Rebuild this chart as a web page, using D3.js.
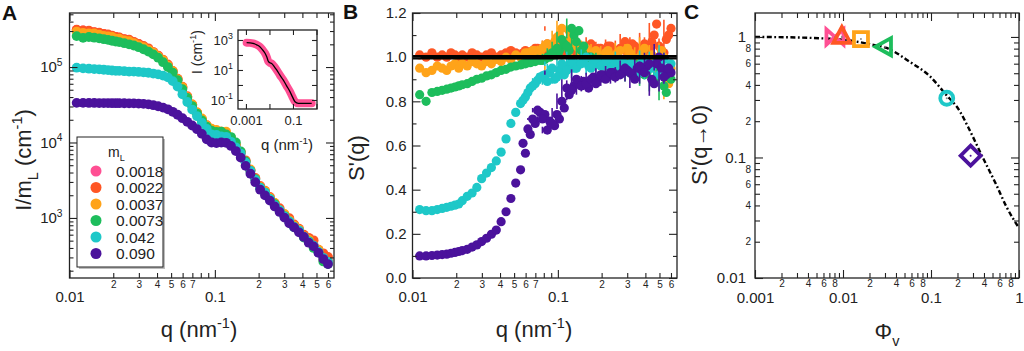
<!DOCTYPE html>
<html><head><meta charset="utf-8">
<script src="https://cdn.jsdelivr.net/npm/d3@7"></script>
<style>body{margin:0;background:#fff;}svg{display:block;}</style>
</head><body><svg id="c" width="1024" height="351"></svg>
<script>
// ---------------- DATA ----------------
const qValues = [0.0112,0.0124,0.0136,0.0148,0.016,0.0172,0.0184,0.0196,0.0208,0.022,0.0238,0.0257,0.0277,0.0299,0.0323,0.0349,0.0377,0.0407,0.044,0.0475,0.0513,0.0554,0.0598,0.0646,0.0698,0.0754,0.0814,0.0879,0.0949,0.1025,0.1107,0.1196,0.1291,0.1395,0.1506,0.1627,0.1757,0.1897,0.2049,0.2213,0.239,0.2581,0.2788,0.3011,0.3252,0.3512,0.3793,0.4096,0.4424,0.4778,0.516,0.5573,0.6];
const seriesLabels = ["0.0018","0.0022","0.0037","0.0073","0.042","0.090"];
const seriesColors = ["#ff4f93","#ff5624","#ffa319","#1dbd5c","#1ec8c8","#4b129c"];

// Panel A: I/mL (cm^-1)
const iA0018 = [3.1e5,3.05e5,2.98e5,2.9e5,2.82e5,2.74e5,2.66e5,2.58e5,2.5e5,2.45e5,2.35e5,2.25e5,2.14e5,2.02e5,1.88e5,1.74e5,1.58e5,1.41e5,1.23e5,1.05e5,8.7e4,6.9e4,5.3e4,4.0e4,3.1e4,2.45e4,1.98e4,1.62e4,1.42e4,1.34e4,1.31e4,1.24e4,1.07e4,8.9e3,7.2e3,5.6e3,4.3e3,3.3e3,2.6e3,2.2e3,1.85e3,1.55e3,1.3e3,1.09e3,930,800,690,590,510,440,370,315,270];
const iA0022 = [3.13e5,3.05e5,3.04e5,2.9e5,2.85e5,2.74e5,2.71e5,2.61e5,2.5e5,2.47e5,2.35e5,2.3e5,2.16e5,2.02e5,1.9e5,1.77e5,1.58e5,1.42e5,1.25e5,1.08e5,8.9e4,7.0e4,5.5e4,4.1e4,3.2e4,2.5e4,2.04e4,1.7e4,1.46e4,1.39e4,1.39e4,1.28e4,1.12e4,9.1e3,7.5e3,5.8e3,4.3e3,3.4e3,2.65e3,2.3e3,1.9e3,1.57e3,1.35e3,1.11e3,990,820,720,600,545,505,380,340,305];
const iA0037 = [2.95e5,2.84e5,2.8e5,2.78e5,2.68e5,2.58e5,2.55e5,2.5e5,2.38e5,2.38e5,2.26e5,2.2e5,2.08e5,1.94e5,1.84e5,1.69e5,1.56e5,1.38e5,1.23e5,1.04e5,8.8e4,6.9e4,5.4e4,4.0e4,3.2e4,2.5e4,2.08e4,1.68e4,1.52e4,1.47e4,1.39e4,1.39e4,1.16e4,9.3e3,7.4e3,5.6e3,4.4e3,3.3e3,2.57e3,2.27e3,1.85e3,1.58e3,1.27e3,1.13e3,930,790,700,570,515,420,380,285,255];
const iA0073 = [2.57e5,2.44e5,2.5e5,2.45e5,2.4e5,2.34e5,2.29e5,2.23e5,2.18e5,2.14e5,2.07e5,2.0e5,1.93e5,1.83e5,1.72e5,1.6e5,1.47e5,1.33e5,1.16e5,1.0e5,8.4e4,6.7e4,5.1e4,3.9e4,3.04e4,2.41e4,1.96e4,1.62e4,1.43e4,1.38e4,1.39e4,1.28e4,1.18e4,1.0e4,7.6e3,5.6e3,4.2e3,3.27e3,2.52e3,2.16e3,1.78e3,1.52e3,1.24e3,1.06e3,890,750,670,550,490,400,350,265,245];
const iA042 = [9.8e4,9.6e4,9.5e4,9.4e4,9.3e4,9.2e4,9.1e4,9.0e4,8.9e4,8.9e4,8.8e4,8.7e4,8.7e4,8.6e4,8.5e4,8.4e4,8.2e4,8.0e4,7.7e4,7.3e4,6.5e4,5.5e4,4.35e4,3.44e4,2.73e4,2.23e4,1.82e4,1.51e4,1.28e4,1.26e4,1.2e4,1.19e4,1.02e4,8.6e3,7.1e3,5.4e3,4.2e3,3.2e3,2.5e3,2.16e3,1.79e3,1.47e3,1.27e3,1.05e3,900,760,680,565,485,430,355,296,262];
const iA090 = [3.35e4,3.35e4,3.34e4,3.34e4,3.33e4,3.33e4,3.33e4,3.32e4,3.32e4,3.32e4,3.31e4,3.3e4,3.3e4,3.28e4,3.25e4,3.2e4,3.12e4,3.02e4,2.9e4,2.75e4,2.55e4,2.33e4,2.1e4,1.88e4,1.68e4,1.5e4,1.3e4,1.1e4,1.0e4,9.8e3,1.0e4,9.9e3,9.0e3,7.7e3,6.3e3,4.9e3,3.85e3,2.98e3,2.37e3,1.99e3,1.7e3,1.42e3,1.2e3,1.01e3,850,750,645,560,470,420,345,285,245];

// Panel A inset: I (cm^-1) vs q
const insetQ = [0.00107,0.0015,0.002,0.0024,0.003,0.0039,0.005,0.0065,0.0078,0.0089,0.0105,0.0124,0.016,0.0203,0.028,0.039,0.053,0.0745,0.095,0.122,0.168,0.25,0.4,0.625];
const insetI = [660,640,590,540,460,357,230,130,70,38,30,27,17,10,4.5,2.1,0.9,0.36,0.16,0.077,0.06,0.06,0.06,0.06];

// Panel B: S'(q) on the main q grid
const sB0022 = [1.01,1.0,1.02,1.0,1.01,1.0,1.02,1.01,1.0,1.01,1.0,1.02,1.01,1.0,1.01,1.02,1.0,1.01,1.02,1.03,1.02,1.01,1.03,1.02,1.04,1.02,1.03,1.05,1.03,1.04,1.06,1.03,1.05,1.02,1.04,1.03,1.01,1.04,1.02,1.05,1.03,1.01,1.04,1.02,1.06,1.03,1.04,1.02,1.07,1.15,1.03,1.08,1.13];
const sB0037 = [0.95,0.93,0.94,0.96,0.95,0.94,0.96,0.97,0.95,0.97,0.96,0.98,0.97,0.96,0.98,0.97,0.99,0.98,1.0,0.99,1.01,1.0,1.02,1.01,1.03,1.02,1.05,1.04,1.07,1.1,1.06,1.12,1.08,1.04,1.03,1.0,1.02,1.01,0.99,1.03,1.0,1.02,0.98,1.04,1.0,0.99,1.02,0.97,1.01,0.96,1.03,0.9,0.95];
const sB0073 = [0.83,0.80,0.84,0.845,0.85,0.855,0.86,0.865,0.87,0.875,0.88,0.89,0.9,0.905,0.915,0.92,0.93,0.94,0.945,0.955,0.96,0.965,0.97,0.975,0.98,0.985,0.99,1.0,1.01,1.03,1.06,1.03,1.1,1.12,1.05,1.0,0.98,0.99,0.97,0.98,0.96,0.98,0.95,0.97,0.96,0.94,0.97,0.93,0.96,0.91,0.94,0.84,0.9];
const sB042 = [0.31,0.305,0.305,0.31,0.315,0.32,0.325,0.33,0.335,0.35,0.37,0.385,0.41,0.45,0.475,0.5,0.53,0.57,0.63,0.70,0.75,0.79,0.82,0.86,0.88,0.91,0.92,0.93,0.90,0.94,0.92,0.96,0.95,0.97,0.99,0.96,0.98,0.97,0.96,0.98,0.97,0.95,0.98,0.96,0.97,0.95,0.98,0.96,0.95,0.98,0.96,0.94,0.97];
const sB090 = [0.10,0.10,0.102,0.104,0.106,0.108,0.112,0.116,0.12,0.124,0.13,0.14,0.15,0.165,0.18,0.198,0.217,0.255,0.30,0.36,0.43,0.49,0.565,0.65,0.70,0.75,0.74,0.71,0.69,0.72,0.77,0.83,0.87,0.88,0.89,0.86,0.91,0.9,0.92,0.91,0.93,0.92,0.93,0.94,0.92,0.95,0.94,0.96,0.9,0.97,0.95,0.92,0.93];
const errB = [0,0,0,0,0,0,0,0,0,0,0,0,0,0,0,0,0,0,0,0,0,0,0,0,0,0,0.01,0.015,0.02,0.03,0.035,0.04,0.045,0.045,0.04,0.035,0.03,0.03,0.03,0.03,0.03,0.035,0.035,0.04,0.04,0.045,0.05,0.05,0.055,0.06,0.065,0.07,0.08];

// Panel B: extra high-q points (between main grid points)
const qValuesB2 = [0.0576,0.0622,0.0671,0.0725,0.0783,0.0846,0.0913,0.0986,0.1065,0.1151,0.1243,0.1342,0.1449,0.1565,0.1691,0.1826,0.1972,0.2129,0.23,0.2484,0.2683,0.2897,0.3129,0.338,0.365,0.3942,0.4257,0.4598,0.4965,0.5363,0.5783];
const sB0022b = [1.02,1.01,1.03,1.04,1.02,1.06,1.03,1.05,1.02,1.07,1.04,1.02,1.05,1.03,1.06,1.02,1.04,1.03,1.05,1.02,1.04,1.07,1.03,1.05,1.02,1.06,1.04,1.1,1.05,1.02,1.1];
const sB0037b = [1.0,1.02,1.03,1.01,1.04,1.06,1.05,1.09,1.13,1.07,1.1,1.05,1.02,1.04,0.99,1.03,1.0,1.02,0.98,1.01,1.03,0.99,1.02,0.97,1.0,1.04,0.96,1.0,0.93,1.0,0.88];
const sB0073b = [0.97,0.975,0.98,0.99,0.985,1.0,1.02,1.04,1.08,1.05,1.13,1.07,1.03,0.99,1.0,0.97,0.99,0.96,0.98,0.95,0.97,0.96,0.93,0.97,0.95,0.92,0.96,0.9,0.95,0.87,0.92];
const sB042b = [0.805,0.84,0.87,0.895,0.915,0.89,0.95,0.91,0.97,0.94,0.98,0.95,0.97,1.0,0.95,0.99,0.96,0.98,0.95,0.97,0.99,0.94,0.97,0.96,0.93,0.98,0.95,0.97,0.92,0.99,0.95];
const sB090b = [0.61,0.675,0.72,0.76,0.72,0.67,0.70,0.74,0.80,0.86,0.85,0.9,0.87,0.88,0.9,0.88,0.92,0.9,0.93,0.91,0.92,0.95,0.93,0.9,0.96,0.93,0.97,0.88,1.0,0.91,0.95];
const errB2 = [0,0.005,0.01,0.012,0.015,0.02,0.03,0.035,0.04,0.045,0.045,0.04,0.035,0.03,0.03,0.03,0.03,0.03,0.03,0.035,0.035,0.04,0.04,0.045,0.05,0.05,0.055,0.06,0.065,0.07,0.08];

// Panel C: S'(q->0) vs phi_v
const phiV = [0.0081,0.0097,0.016,0.030,0.151,0.282];
const sZero = [1.0,1.0,0.96,0.83,0.31,0.1035];
const markerShapes = ["bowtie","triangleUp","square","triangleLeft","circle","diamond"];
const modelPhi = [0.001,0.003,0.0055,0.01,0.0203,0.0314,0.0577,0.0975,0.144,0.214,0.263,0.38,0.56,0.72,1.0];
const modelS = [1.0,0.99,0.975,0.95,0.87,0.81,0.62,0.47,0.34,0.24,0.18,0.103,0.058,0.039,0.026];

// Tick values / labels
const qMajorTicks = [0.01,0.1], qMajorLabels = ["0.01","0.1"];
const qMinorTicks = [0.02,0.03,0.04,0.05,0.06,0.07,0.08,0.09,0.2,0.3,0.4,0.5,0.6];
const qMinorLabels = ["2","3","4","5","6","7","","","2","3","4","5","6"];
const iMajorTicks = [1e3,1e4,1e5], iMajorExp = ["3","4","5"];
const iMinorTicks = [200,300,400,500,600,700,800,900,2e3,3e3,4e3,5e3,6e3,7e3,8e3,9e3,2e4,3e4,4e4,5e4,6e4,7e4,8e4,9e4,2e5,3e5,4e5,5e5];
const sMajorTicks = [0,0.2,0.4,0.6,0.8,1.0,1.2], sMajorLabels = ["0.0","0.2","0.4","0.6","0.8","1.0","1.2"];
const sMinorTicks = [0.1,0.3,0.5,0.7,0.9,1.1];
const phiMajorTicks = [0.001,0.01,0.1,1], phiMajorLabels = ["0.001","0.01","0.1","1"];
const phiMinorTicks = [0.002,0.003,0.004,0.005,0.006,0.007,0.008,0.009,0.02,0.03,0.04,0.05,0.06,0.07,0.08,0.09,0.2,0.3,0.4,0.5,0.6,0.7,0.8,0.9];
const phiMinorLabels = ["2","","4","","6","","8","","2","","4","","6","","8","","2","","4","","6","","8",""];
const szMajorTicks = [0.01,0.1,1], szMajorLabels = ["0.01","0.1","1"];
const szMinorTicks = [0.02,0.03,0.04,0.05,0.06,0.07,0.08,0.09,0.2,0.3,0.4,0.5,0.6,0.7,0.8,0.9];
const szMinorLabels = ["2","","4","","6","","8","","2","","4","","6","","8",""];
const insetQTicks = [0.001,0.01,0.1,1], insetQLabels = ["0.001","","0.1",""];
const insetITicks = [0.1,1,10,100,1000], insetIExp = ["-1","","1","","3"];

// ---------------- DRAW ----------------
const FONT = '"Liberation Sans", Arial, Helvetica, sans-serif';
const INK = "#222";
const svg = d3.select("#c").attr("font-family", FONT);

function lbl(arr, ticks){ return d => { const i = ticks.indexOf(d); return i >= 0 ? arr[i] : ""; }; }

function axis(scale, side, vals, len, fmt, fs, pad, tx, ty){
  const gen = {bottom:d3.axisBottom, top:d3.axisTop, left:d3.axisLeft, right:d3.axisRight}[side](scale)
    .tickValues(vals).tickSizeInner(-len).tickSizeOuter(0).tickPadding(pad)
    .tickFormat(fmt || (() => ""));
  const a = svg.append("g").attr("transform", `translate(${tx},${ty})`).call(gen);
  a.select(".domain").remove();
  a.selectAll("line").attr("stroke", INK).attr("stroke-width", 1.1);
  a.selectAll("text").attr("fill", INK).attr("font-size", fs).attr("font-family", FONT);
  return a;
}

function rich(sel, parts, fs){
  let shift = 0;
  parts.forEach(p => {
    const target = p[1] === "sub" ? fs*0.3 : p[1] === "sup" ? -fs*0.42 : 0;
    const ts = sel.append("tspan").attr("dy", (target - shift).toFixed(2)).text(p[0]);
    if (p[1]) ts.attr("font-size", (fs*0.66).toFixed(1));
    shift = target;
  });
  return sel;
}

function supLabels(a, expArr, ticks, fs){
  a.selectAll("text").each(function(d){
    const i = ticks.indexOf(d);
    const t = d3.select(this); t.text(null);
    if (i < 0 || expArr[i] === "") return;
    t.append("tspan").text("10");
    t.append("tspan").attr("dy", -fs*0.42).attr("font-size", fs*0.68).text(expArr[i]);
  });
}

function frame(x0, x1, y0, y1){
  svg.append("rect").attr("x", x0).attr("y", y0).attr("width", x1-x0).attr("height", y1-y0)
    .attr("fill", "none").attr("stroke", INK).attr("stroke-width", 1.3);
}

function xTitle(x, y, parts, fs){
  rich(svg.append("text").attr("x", x).attr("y", y).attr("text-anchor", "middle")
    .attr("font-size", fs).attr("fill", INK), parts, fs);
}
function yTitle(x, y, parts, fs){
  rich(svg.append("text").attr("transform", `translate(${x},${y}) rotate(-90)`).attr("text-anchor", "middle")
    .attr("font-size", fs).attr("fill", INK), parts, fs);
}

const TOP = 13, BOT = 278;

// ===== Panel A =====
const Ax0 = 69.5, Ax1 = 334;
const xA = d3.scaleLog().domain([0.01, 0.66]).range([Ax0, Ax1]);
const yA = d3.scaleLog().domain([160, 5.2e5]).range([BOT, TOP]);
const seriesA = [iA0018, iA0022, iA0037, iA0073, iA042, iA090];
const gA = svg.append("g");
seriesA.forEach((arr, s) => {
  gA.append("g").selectAll("circle").data(arr).join("circle")
    .attr("cx", (d, i) => xA(qValues[i])).attr("cy", d => yA(d)).attr("r", 4.9)
    .attr("fill", seriesColors[s]);
});
frame(Ax0, Ax1, TOP, BOT);
axis(xA, "bottom", qMinorTicks, 5, lbl(qMinorLabels, qMinorTicks), 10, 3, 0, BOT);
axis(xA, "bottom", qMajorTicks, 8, lbl(qMajorLabels, qMajorTicks), 15, 13, 0, BOT);
axis(xA, "top", qMinorTicks, 5, null, 10, 3, 0, TOP);
axis(xA, "top", qMajorTicks, 8, null, 10, 3, 0, TOP);
supLabels(axis(yA, "left", iMajorTicks, 8, d => String(d), 15, 7, Ax0, 0), iMajorExp, iMajorTicks, 15);
axis(yA, "left", iMinorTicks, 4, null, 10, 3, Ax0, 0);
axis(yA, "right", iMajorTicks, 8, null, 10, 3, Ax1, 0);
axis(yA, "right", iMinorTicks, 4, null, 10, 3, Ax1, 0);

// Legend
svg.append("rect").attr("x", 79).attr("y", 139).attr("width", 86).attr("height", 130).attr("fill", "#bdbdbd");
svg.append("rect").attr("x", 77).attr("y", 137).attr("width", 86).attr("height", 130)
  .attr("fill", "#fff").attr("stroke", INK).attr("stroke-width", 1);
rich(svg.append("text").attr("x", 108).attr("y", 157).attr("font-size", 14).attr("fill", INK), [["m"],["L","sub"]], 14);
seriesLabels.forEach((l, i) => {
  const cy = 171 + i*16.5;
  svg.append("circle").attr("cx", 96).attr("cy", cy).attr("r", 5.5).attr("fill", seriesColors[i]);
  svg.append("text").attr("x", 116).attr("y", cy + 5.5).attr("font-size", 15.5).attr("fill", INK).text(l);
});

// Inset
const Ix0 = 238, Ix1 = 317, Iy0 = 30, Iy1 = 109;
const xI = d3.scaleLog().domain([0.00046, 1.05]).range([Ix0, Ix1]);
const yI = d3.scaleLog().domain([0.025, 4640]).range([Iy1, Iy0]);
svg.append("rect").attr("x", Ix0).attr("y", Iy0).attr("width", Ix1-Ix0).attr("height", Iy1-Iy0).attr("fill", "#fff");
const insetLine = d3.line().x((d, i) => xI(insetQ[i])).y(d => yI(d)).curve(d3.curveMonotoneX);
svg.append("path").datum(insetI).attr("d", insetLine).attr("fill", "none")
  .attr("stroke", seriesColors[0]).attr("stroke-width", 8).attr("stroke-linecap", "round").attr("stroke-linejoin", "round");
svg.append("path").datum(insetI).attr("d", insetLine).attr("fill", "none").attr("stroke", "#000").attr("stroke-width", 1.3);
frame(Ix0, Ix1, Iy0, Iy1);
axis(xI, "bottom", insetQTicks, 5, lbl(insetQLabels, insetQTicks), 13, 7, 0, Iy1);
axis(xI, "top", insetQTicks, 5, null, 10, 3, 0, Iy0);
supLabels(axis(yI, "left", insetITicks, 5, d => String(d), 13, 5, Ix0, 0), insetIExp, insetITicks, 13);
axis(yI, "right", insetITicks, 5, null, 10, 3, Ix1, 0);
xTitle(287, 150, [["q (nm"],["-1","sup"],[")"]], 15);
yTitle(202, 52, [["I (cm"],["-1","sup"],[")"]], 14);

xTitle(199, 337, [["q (nm"],["-1","sup"],[")"]], 22);
yTitle(31, 160, [["I/m"],["L","sub"],[" (cm"],["-1","sup"],[")"]], 22);
svg.append("text").attr("x", 2).attr("y", 20).attr("font-size", 21).attr("font-weight", "bold").attr("fill", "#111").text("A");

// ===== Panel B =====
const Bx0 = 412.5, Bx1 = 677;
const xB = d3.scaleLog().domain([0.01, 0.66]).range([Bx0, Bx1]);
const yB = d3.scaleLinear().domain([0, 1.2]).range([BOT, TOP]);
const seriesB = [sB0022, sB0037, sB0073, sB042, sB090];
const seriesB2 = [sB0022b, sB0037b, sB0073b, sB042b, sB090b];
const colorsB = seriesColors.slice(1);
const gB = svg.append("g");
function drawB(g, qs, vals, errs, color){
  g.append("g").selectAll("line").data(vals).join("line")
    .filter((d, i) => errs[i] > 0)
    .attr("x1", (d, i) => xB(qs[i])).attr("x2", (d, i) => xB(qs[i]))
    .attr("y1", (d, i) => yB(d - errs[i])).attr("y2", (d, i) => yB(d + errs[i]))
    .attr("stroke", color).attr("stroke-width", 1.6);
  g.append("g").selectAll("circle").data(vals).join("circle")
    .attr("cx", (d, i) => xB(qs[i])).attr("cy", d => yB(d)).attr("r", 4.6)
    .attr("fill", color);
}
seriesB.forEach((arr, s) => {
  const g = gB.append("g");
  drawB(g, qValues, arr, errB, colorsB[s]);
  drawB(g, qValuesB2, seriesB2[s], errB2, colorsB[s]);
});
svg.append("line").attr("x1", Bx0).attr("x2", Bx1).attr("y1", yB(1)).attr("y2", yB(1))
  .attr("stroke", "#000").attr("stroke-width", 4.5);
frame(Bx0, Bx1, TOP, BOT);
axis(xB, "bottom", qMinorTicks, 5, lbl(qMinorLabels, qMinorTicks), 10, 3, 0, BOT);
axis(xB, "bottom", qMajorTicks, 8, lbl(qMajorLabels, qMajorTicks), 15, 13, 0, BOT);
axis(xB, "top", qMinorTicks, 5, null, 10, 3, 0, TOP);
axis(xB, "top", qMajorTicks, 8, null, 10, 3, 0, TOP);
axis(yB, "left", sMajorTicks, 8, lbl(sMajorLabels, sMajorTicks), 15, 6, Bx0, 0);
axis(yB, "left", sMinorTicks, 4, null, 10, 3, Bx0, 0);
axis(yB, "right", sMajorTicks, 8, null, 10, 3, Bx1, 0);
axis(yB, "right", sMinorTicks, 4, null, 10, 3, Bx1, 0);
xTitle(534, 337, [["q (nm"],["-1","sup"],[")"]], 22);
yTitle(364, 158, [["S'(q)"]], 22);
svg.append("text").attr("x", 343).attr("y", 19).attr("font-size", 21).attr("font-weight", "bold").attr("fill", "#111").text("B");

// ===== Panel C =====
const Cx0 = 755, Cx1 = 1019;
const xC = d3.scaleLog().domain([0.001, 1]).range([Cx0, Cx1]);
const yC = d3.scaleLog().domain([0.01, 1.58]).range([BOT, TOP]);
const modelLine = d3.line().x((d, i) => xC(modelPhi[i])).y(d => yC(d)).curve(d3.curveMonotoneX);
svg.append("path").datum(modelS).attr("d", modelLine).attr("fill", "none")
  .attr("stroke", "#000").attr("stroke-width", 2.4).attr("stroke-dasharray", "5,2.5,1.8,2.5");
const shapePath = {
  bowtie: "M-8.5,-7.5L0,0L-8.5,7.5ZM8.5,-7.5L0,0L8.5,7.5Z",
  triangleUp: "M0,-10L8.5,6L-8.5,6Z",
  square: "M-7,-7H7V7H-7Z",
  triangleLeft: "M-9.5,0L6,-8.5L6,8.5Z",
  diamond: "M0,-10L10,0L0,10L-10,0Z"
};
phiV.forEach((p, i) => {
  const cx = xC(p), cy = yC(sZero[i]);
  const g = svg.append("g").attr("transform", `translate(${cx},${cy})`);
  if (markerShapes[i] === "circle") {
    g.append("circle").attr("r", 6.5).attr("fill", "none").attr("stroke", seriesColors[i]).attr("stroke-width", 3.8);
  } else {
    g.append("path").attr("d", shapePath[markerShapes[i]]).attr("fill", "none")
      .attr("stroke", seriesColors[i]).attr("stroke-width", 3.8).attr("stroke-linejoin", "miter");
  }
  g.append("circle").attr("r", 1).attr("fill", markerShapes[i] === "diamond" ? seriesColors[i] : "#888");
});
frame(Cx0, Cx1, TOP, BOT);
axis(xC, "bottom", phiMinorTicks, 5, lbl(phiMinorLabels, phiMinorTicks), 10, 2, 0, BOT);
axis(xC, "bottom", phiMajorTicks, 8, lbl(phiMajorLabels, phiMajorTicks), 15, 14, 0, BOT);
axis(xC, "top", phiMinorTicks, 5, null, 10, 3, 0, TOP);
axis(xC, "top", phiMajorTicks, 8, null, 10, 3, 0, TOP);
axis(yC, "left", szMajorTicks, 8, lbl(szMajorLabels, szMajorTicks), 15, 9, Cx0, 0);
axis(yC, "left", szMinorTicks, 5, lbl(szMinorLabels, szMinorTicks), 10, 4, Cx0, 0);
axis(yC, "right", szMajorTicks, 8, null, 10, 3, Cx1, 0);
axis(yC, "right", szMinorTicks, 5, null, 10, 3, Cx1, 0);
xTitle(887, 339, [["Φ"],["v","sub"]], 22);
yTitle(707, 145, [["S'(q→0)"]], 22);
svg.append("text").attr("x", 684).attr("y", 19).attr("font-size", 21).attr("font-weight", "bold").attr("fill", "#111").text("C");
</script>
</body></html>
